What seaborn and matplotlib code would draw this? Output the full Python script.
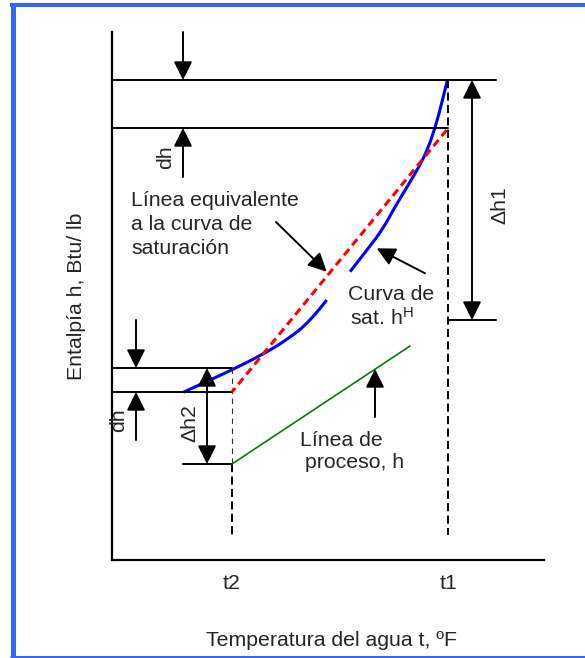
import matplotlib
matplotlib.use("Agg")
import matplotlib.pyplot as plt
import seaborn as sns
from matplotlib.path import Path
from matplotlib.patches import PathPatch


# =====================
# Data (schematic)
# x = water temperature, y = enthalpy (arbitrary units)
# =====================

t2 = 120
t1 = 336

x_max = 432
h_max = 528

# saturation curve h^H (upper and lower piece, there is a gap in the drawing)
sat_upper_t = [335.3, 329.7, 323, 315.3, 308, 296.3, 283, 270.7, 255, 238]
sat_upper_h = [479.3, 456.7, 431.7, 410, 395, 375, 353.3, 330.7, 310, 288.3]
sat_lower_t = [214.7, 198, 174.7, 149.7, 119.7, 98, 71.3]
sat_lower_h = [260, 238.3, 220, 205, 190, 180, 167.7]

# equivalent straight line
equiv_t = [334.7, 119.7]
equiv_h = [430, 167.7]

# process line h
proc_t = [120, 298]
proc_h = [96, 214]

# enthalpy levels
h_top = 480
h_top_dh = 432
h_dh1_low = 240
h_low = 192
h_low_dh = 168
h_proc_low = 96

# arrow positions
dh_top_x = 71
dh_low_x = 24
dh2_x = 95
dh1_x = 360

tick_pos = [t2, t1]
tick_labels = ["t2", "t1"]

x_label = "Temperatura del agua t, ºF"
y_label = "Entalpía h, Btu/ lb"


# =====================
# Style
# =====================

sns.set_style("white")
plt.rcParams["font.family"] = ["Liberation Sans", "DejaVu Sans"]
plt.rcParams["mathtext.fontset"] = "custom"
plt.rcParams["mathtext.rm"] = "Liberation Sans"
plt.rcParams["mathtext.it"] = "Liberation Sans:italic"

fs = 15.3
black = "black"
blue = "#0000ff"
red = "#ff0000"
green = "#008000"

W, H = 585, 658
fig = plt.figure(figsize=(W / 100, H / 100), dpi=100)
fig.patch.set_facecolor("white")

ax = fig.add_axes([
    112 / W,
    (H - 560) / H,
    432 / W,
    528 / H
])

ax.set_xlim(0, x_max)
ax.set_ylim(0, h_max)

sns.despine(ax=ax)
for side in ["left", "bottom"]:
    ax.spines[side].set_linewidth(1.6)
    ax.spines[side].set_color(black)

ax.set_xticks(tick_pos)
ax.set_xticklabels(tick_labels, fontsize=fs)
ax.set_yticks([])
ax.tick_params(axis="x", length=0, pad=10)

ax.set_xlabel(x_label, fontsize=fs, va="top")
ax.xaxis.set_label_coords((331 - 112) / 432, (560 - 630.5) / 528)

ax.set_ylabel(y_label, fontsize=fs, labelpad=19)


# =====================
# Lines
# =====================

lw = 1.4

ax.plot([0, x_max - 48], [h_top, h_top], color=black, lw=lw)
ax.plot([0, t1], [h_top_dh, h_top_dh], color=black, lw=lw)
ax.plot([t1, x_max - 48], [h_dh1_low, h_dh1_low], color=black, lw=lw)
ax.plot([0, t2], [h_low, h_low], color=black, lw=lw)
ax.plot([0, t2], [h_low_dh, h_low_dh], color=black, lw=lw)
ax.plot([dh_top_x, t2], [h_proc_low, h_proc_low], color=black, lw=lw)

# t1 and t2 guide lines
ax.plot([t1, t1], [h_top, 25], color=black, lw=1.4, ls=(0, (4.2, 2.2)))
ax.plot([t2, t2], [h_low, h_proc_low], color="#333333", lw=0.8, ls=(0, (5, 4)))
ax.plot([t2, t2], [h_proc_low, 23], color=black, lw=1.4, ls=(0, (4.2, 2.2)))


# smooth drawing through the read points (quadratic pieces)
def smooth_curve(xs, ys, **kw):
    pts = list(zip(xs, ys))
    verts = [pts[0]]
    codes = [Path.MOVETO]
    for i in range(1, len(pts) - 1):
        nxt = pts[i + 1] if i + 1 == len(pts) - 1 else (
            (pts[i][0] + pts[i + 1][0]) / 2,
            (pts[i][1] + pts[i + 1][1]) / 2
        )
        verts += [pts[i], nxt]
        codes += [Path.CURVE3, Path.CURVE3]
    ax.add_patch(PathPatch(Path(verts, codes), fill=False,
                           capstyle="butt", **kw))


smooth_curve(sat_upper_t, sat_upper_h, edgecolor=blue, lw=2.2)
smooth_curve(sat_lower_t, sat_lower_h, edgecolor=blue, lw=2.2)

ax.plot(equiv_t, equiv_h, color=red, lw=2.2, ls=(0, (2.6, 1.6)))
sns.lineplot(x=proc_t, y=proc_h, sort=False, ax=ax,
             color=green, lw=1.2, estimator=None)


# =====================
# Arrows
# =====================

def arrow(tail, tip, style="-|>"):
    ax.annotate(
        "",
        xy=tip,
        xytext=tail,
        arrowprops=dict(
            arrowstyle=style,
            color=black,
            lw=lw,
            mutation_scale=28,
            shrinkA=0,
            shrinkB=0
        ),
        annotation_clip=False
    )


arrow((dh_top_x, h_max), (dh_top_x, h_top))
arrow((dh_top_x, 383), (dh_top_x, h_top_dh))
arrow((dh_low_x, h_dh1_low), (dh_low_x, h_low))
arrow((dh_low_x, 120), (dh_low_x, h_low_dh))
arrow((dh1_x, h_top), (dh1_x, h_dh1_low), style="<|-|>")
arrow((dh2_x, h_low), (dh2_x, h_proc_low), style="<|-|>")

arrow((164, 338), (214.7, 288.3))
arrow((313, 286.7), (264.7, 311.7))
arrow((263, 143), (263, 191))


# =====================
# Texts
# =====================

def label(x, y, s, rot=0, ha="left"):
    ax.text(x, y, s, fontsize=fs, rotation=rot, ha=ha, va="center")


label(19, 360, "Línea equivalente")
label(19, 335.5, "a la curva de")
label(19, 312, "saturación")

label(236, 265, "Curva de")
label(238, 242, "sat. h$^{\\mathrm{H}}$")

label(188, 120, "Línea de")
label(193, 97, "proceso, h")

label(54, 403, "dh", rot=90, ha="center")
label(7, 140, "dh", rot=90, ha="center")
label(78, 137, "Δh2", rot=90, ha="center")
label(388, 355, "Δh1", rot=90, ha="center")


# =====================
# Frame
# =====================

bg = fig.add_axes([0, 0, 1, 1], zorder=5)
bg.set_xlim(0, W)
bg.set_ylim(H, 0)
bg.set_axis_off()

# bottom of the axis title is cut off in the original
bg.fill_between([150, 520], 650, 656, color="white", lw=0)

frame = "#3366ff"
bg.plot([12.5, 12.5], [3, H], color=frame, lw=3.6, solid_capstyle="butt")
bg.plot([10, W], [5, 5], color=frame, lw=2.9, solid_capstyle="butt")
bg.plot([10, W], [657, 657], color=frame, lw=2.2, solid_capstyle="butt")

fig.savefig("out.png", dpi=100)
